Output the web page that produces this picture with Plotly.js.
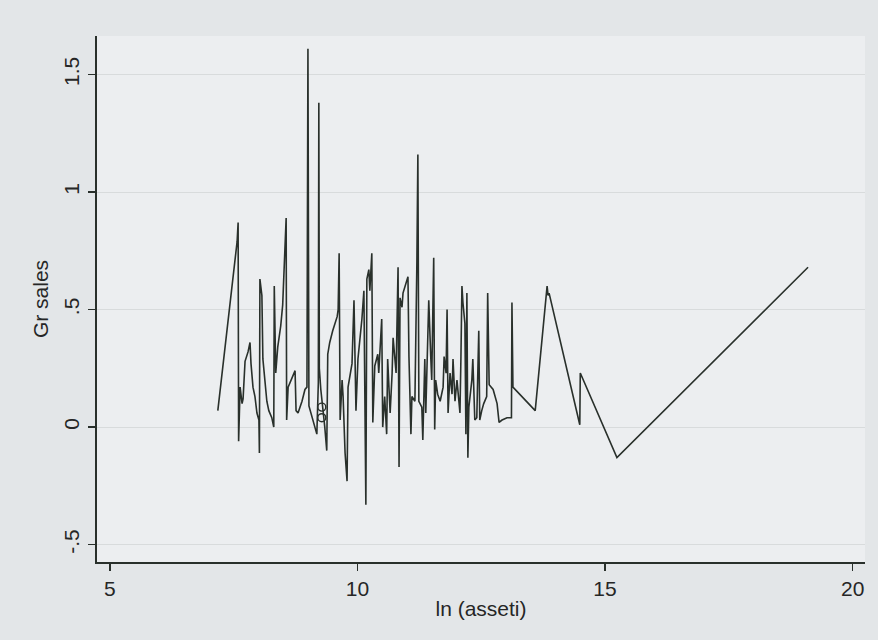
<!DOCTYPE html>
<html>
<head>
<meta charset="utf-8">
<script src="https://cdn.plot.ly/plotly-3.0.1.min.js"></script>
<style>
html,body{margin:0;padding:0;background:#e4e7e9;}
#chart{width:878px;height:640px;}
</style>
</head>
<body>
<div id="chart"></div>
<script>
// ln(assets) values (sorted) and sales growth
var lnAssets = [7.18,7.57,7.59,7.60,7.63,7.67,7.69,7.73,7.79,7.83,7.85,7.87,7.89,7.93,7.97,8.01,8.02,8.03,8.07,8.09,
8.13,8.17,8.21,8.27,8.31,8.32,8.35,8.39,8.45,8.49,8.56,8.57,8.60,8.68,8.74,8.76,8.80,8.88,8.94,8.98,
9.00,9.02,9.10,9.16,9.18,9.21,9.22,9.23,9.26,9.34,9.38,9.40,9.44,9.50,9.59,9.61,9.63,9.65,9.69,9.71,
9.75,9.79,9.81,9.89,9.93,9.97,10.01,10.09,10.13,10.17,10.19,10.23,10.25,10.29,10.31,10.35,10.41,10.43,10.45,10.49,
10.51,10.55,10.59,10.61,10.66,10.70,10.72,10.78,10.82,10.84,10.86,10.90,10.92,11.00,11.02,11.04,11.06,11.08,11.10,11.16,
11.20,11.22,11.24,11.30,11.32,11.36,11.38,11.42,11.44,11.48,11.50,11.54,11.56,11.58,11.62,11.67,11.73,11.75,11.79,11.81,
11.83,11.87,11.91,11.93,11.97,12.01,12.07,12.09,12.11,12.13,12.17,12.19,12.21,12.23,12.25,12.31,12.33,12.37,12.41,12.45,
12.47,12.51,12.55,12.61,12.63,12.66,12.74,12.82,12.86,12.92,13.02,13.11,13.12,13.14,13.59,13.83,13.85,13.87,14.49,14.50,
15.24,19.10];
var grSales = [0.07,0.79,0.87,-0.06,0.17,0.10,0.12,0.28,0.32,0.36,0.27,0.23,0.17,0.13,0.06,0.03,-0.11,0.63,0.56,0.29,
0.20,0.11,0.07,0.04,0.00,0.60,0.23,0.34,0.43,0.52,0.89,0.03,0.17,0.21,0.24,0.07,0.06,0.11,0.16,0.17,
1.61,0.09,0.03,-0.01,-0.03,0.19,1.38,0.25,0.16,0.00,-0.10,0.31,0.36,0.41,0.47,0.50,0.74,0.03,0.20,0.13,
-0.11,-0.23,0.17,0.27,0.54,0.07,0.29,0.46,0.58,-0.33,0.63,0.67,0.58,0.74,0.02,0.26,0.31,0.23,0.31,0.46,
0.00,0.13,-0.03,0.29,0.06,0.23,0.38,0.23,0.68,-0.17,0.55,0.51,0.57,0.63,0.64,0.30,0.11,-0.03,0.13,0.11,
0.70,1.16,0.11,0.085,-0.055,0.29,0.06,0.36,0.54,0.30,0.20,0.72,-0.01,0.20,0.14,0.11,0.17,0.30,0.23,0.50,
0.06,0.23,0.14,0.29,0.11,0.20,0.06,0.30,0.60,0.53,0.44,-0.03,0.57,-0.13,0.085,0.20,0.29,0.03,0.04,0.41,
0.03,0.07,0.10,0.13,0.57,0.18,0.16,0.10,0.02,0.03,0.04,0.04,0.53,0.17,0.07,0.60,0.56,0.57,0.01,0.23,
-0.13,0.68];
// isolated symbols near ln(assets)=9.28
var symX = [9.28, 9.28];
var symY = [0.085, 0.04];

var yTickVals = [-0.5, 0, 0.5, 1, 1.5];
var yTickText = ['-.5', '0', '.5', '1', '1.5'];
var xTickVals = [5, 10, 15, 20];

var fontFam = '"Liberation Sans Narrow", "Liberation Sans", Arial, sans-serif';
var ink = '#29302b';
var txt = '#262626';

var traces = [
  {x: lnAssets, y: grSales, type: 'scatter', mode: 'lines',
   line: {color: ink, width: 1.6}, hoverinfo: 'x+y'},
  {x: symX, y: symY, type: 'scatter', mode: 'markers',
   marker: {symbol: 'circle-open', size: 8, color: ink, line: {width: 1.4, color: ink}}}
];

var layout = {
  width: 878, height: 640,
  paper_bgcolor: '#e3e6e8',
  plot_bgcolor: '#eceef0',
  showlegend: false,
  margin: {l: 97, r: 13, t: 36, b: 78},
  font: {family: fontFam, size: 20, color: txt},
  xaxis: {
    range: [4.74, 20.25],
    tickvals: xTickVals,
    ticks: 'outside', ticklen: 7, tickwidth: 1.5, tickcolor: ink,
    showline: true, linecolor: ink, linewidth: 2.2,
    showgrid: false, zeroline: false,
    tickfont: {family: fontFam, size: 21, color: txt},
    title: {text: 'ln (asseti)', font: {family: fontFam, size: 21, color: txt}, standoff: 2}
  },
  yaxis: {
    range: [-0.574, 1.664],
    tickvals: yTickVals, ticktext: yTickText,
    tickangle: -90,
    ticks: 'outside', ticklen: 7, tickwidth: 1.5, tickcolor: ink,
    showline: true, linecolor: ink, linewidth: 2.2,
    showgrid: true, gridcolor: '#d8dbdc', gridwidth: 1,
    zeroline: false,
    tickfont: {family: fontFam, size: 21, color: txt},
    title: {text: 'Gr sales', font: {family: fontFam, size: 21, color: txt}, standoff: 6}
  }
};

Plotly.newPlot('chart', traces, layout, {displayModeBar: false, staticPlot: true});
</script>
</body>
</html>
